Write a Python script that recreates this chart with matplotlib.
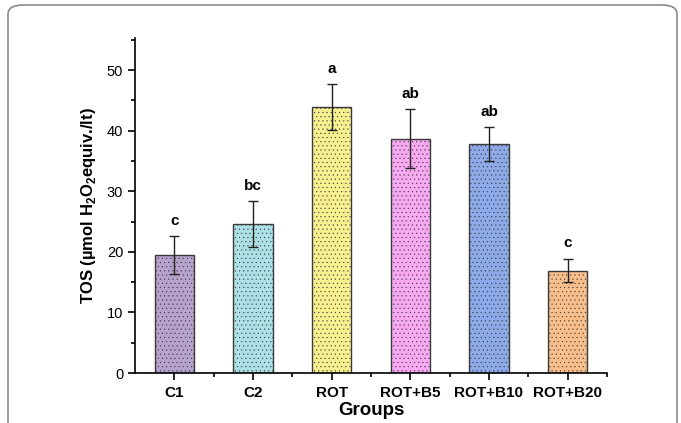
import numpy as np
import matplotlib.pyplot as plt
from matplotlib.patches import FancyBboxPatch

plt.rcParams.update({
    "font.family": ["Liberation Sans", "DejaVu Sans"],
    "font.size": 10,
    "axes.linewidth": 1.2,
    "hatch.linewidth": 0.3,
    "mathtext.fontset": "custom",
    "mathtext.rm": "Liberation Sans",
    "mathtext.bf": "Liberation Sans:bold",
})

# group means, error (SD) and significance letters
groups = ["C1", "C2", "ROT", "ROT+B5", "ROT+B10", "ROT+B20"]
tos = [19.5, 24.6, 43.9, 38.7, 37.8, 16.9]
err = [3.1, 3.8, 3.8, 4.9, 2.8, 1.95]
letters = ["c", "bc", "a", "ab", "ab", "c"]
colors = ["#b6a2cc", "#ade1e6", "#f6f08e", "#f8a9f2", "#8eaaea", "#f8bf8c"]

fig = plt.figure(figsize=(6.81, 4.23), dpi=100)

# rounded panel frame around the figure
frame = FancyBboxPatch((8 / 681, -0.2), (681 - 12) / 681, 1.2 - 5 / 423,
                       boxstyle="round,pad=0,rounding_size=0.022",
                       transform=fig.transFigure, fill=False,
                       edgecolor="#8a8a8a", linewidth=1.2, clip_on=False)
fig.patches.append(frame)

ax = fig.add_axes([135 / 681, 50 / 423, 472 / 681, 335 / 423])

x = np.arange(len(groups))
bars = ax.bar(x, tos, width=0.5, color=colors, edgecolor="#3a3a3a",
              linewidth=1.0, hatch="....", zorder=2)
ax.errorbar(x, tos, yerr=err, fmt="none", ecolor="#222222", elinewidth=1.0,
            capsize=3.5, capthick=1.0, zorder=3)

for xi, m, e, lab in zip(x, tos, err, letters):
    ax.annotate(lab, (xi, m + e), xytext=(0, 6), textcoords="offset points",
                ha="center", va="bottom", fontsize=11, fontweight="bold")

ax.set_xlim(-0.5, 5.5)
ax.set_ylim(0, 55.3)
ax.set_yticks(np.arange(0, 51, 10))
ax.set_yticks(np.arange(5, 56, 10), minor=True)
ax.set_xticks(x)
ax.set_xticks(list(x[:-1] + 0.5) + [5.5], minor=True)
ax.set_xticklabels(groups, fontweight="bold", fontsize=11)
ax.tick_params(axis="y", labelsize=10.5)

ax.tick_params(which="major", direction="out", length=5, width=1.2)
ax.tick_params(which="minor", direction="out", length=3, width=1.2)
ax.tick_params(axis="x", pad=4)
ax.spines["top"].set_visible(False)
ax.spines["right"].set_visible(False)

ax.set_xlabel("Groups", fontsize=13.5, fontweight="bold", labelpad=2)
ax.set_ylabel(r"TOS (µmol H$_\mathbf{2}$O$_\mathbf{2}$equiv./lt)",
              fontsize=12, fontweight="bold", labelpad=6)

fig.savefig("out.png", dpi=100)
